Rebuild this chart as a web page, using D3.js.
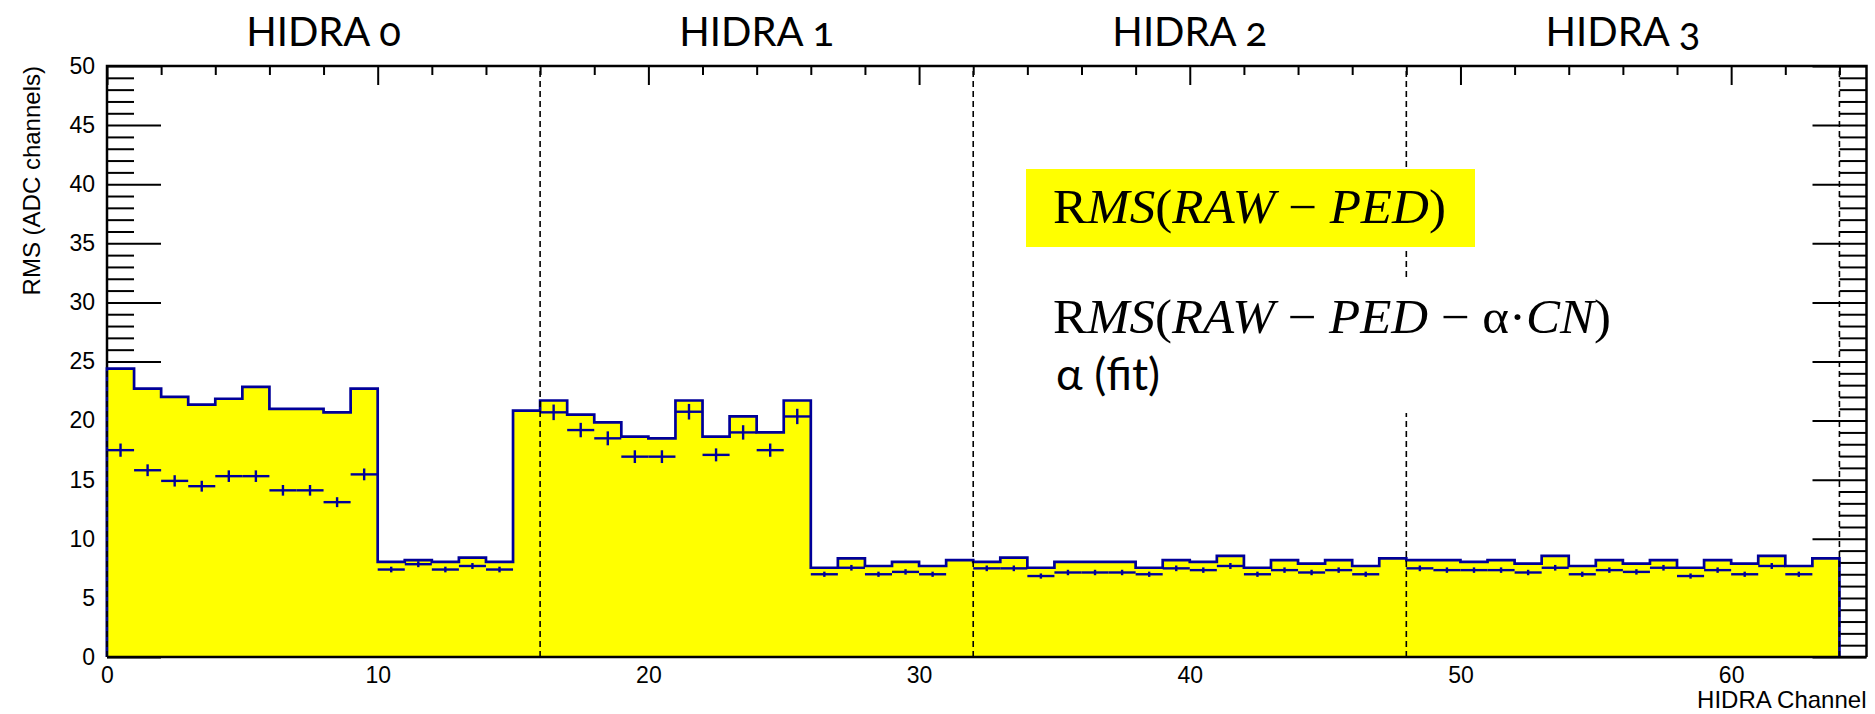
<!DOCTYPE html>
<html>
<head>
<meta charset="utf-8">
<script src="https://cdn.jsdelivr.net/npm/d3@7"></script>
<style>
  body { margin: 0; background: #fff; }
  svg { display: block; }
  .tick text { font-family: "Liberation Sans", Arial, sans-serif; }
</style>
</head>
<body>
<svg id="chart"></svg>
<script>
// module labels above the frame, centred on their channel blocks
const modules = ["HIDRA 0", "HIDRA 1", "HIDRA 2", "HIDRA 3"];
const moduleCenters = [8, 24, 40, 56];
const moduleEdges = [0, 16, 32, 48, 64];

// RMS(RAW - PED), one value per channel (filled histogram)
const rmsRawPed = [
  24.4, 22.7, 22.0, 21.35, 21.85, 22.85, 21.0, 21.0, 20.7, 22.7,
  8.05, 8.2, 8.05, 8.4, 8.05, 20.85, 21.7, 20.5, 19.85, 18.65,
  18.5, 21.7, 18.65, 20.35, 19.0, 21.7, 7.55, 8.35, 7.7, 8.05,
  7.7, 8.2, 8.05, 8.4, 7.55, 8.05, 8.05, 8.05, 7.55, 8.2,
  8.05, 8.55, 7.55, 8.2, 7.9, 8.2, 7.7, 8.35, 8.2, 8.2,
  8.05, 8.2, 7.9, 8.55, 7.7, 8.2, 7.9, 8.2, 7.55, 8.2,
  7.9, 8.55, 7.7, 8.35
];

// RMS(RAW - PED - a*CN), points with error bars (null = no point)
const rmsCnCorr = [
  17.5, 15.8, 14.9, 14.45, 15.3, 15.3, 14.1, 14.1, 13.1, 15.45,
  7.4, 7.85, 7.4, 7.7, 7.4, null, 20.7, 19.2, 18.5, 16.95,
  16.95, 20.75, 17.1, 19.0, 17.5, 20.35, 7.0, 7.55, 7.0, 7.2,
  7.0, null, 7.5, 7.5, 6.85, 7.15, 7.15, 7.15, 7.0, 7.5,
  7.35, 7.7, 7.0, 7.35, 7.15, 7.35, 7.0, null, 7.5, 7.35,
  7.35, 7.35, 7.15, 7.55, 7.0, 7.35, 7.2, 7.55, 6.85, 7.35,
  7.0, 7.7, 7.0, null
];
const rmsCnErr = [
  0.56, 0.5, 0.48, 0.46, 0.49, 0.49, 0.45, 0.45, 0.42, 0.5,
  0.24, 0.25, 0.24, 0.25, 0.24, 0, 0.66, 0.61, 0.59, 0.54,
  0.54, 0.66, 0.55, 0.61, 0.56, 0.65, 0.22, 0.24, 0.22, 0.23,
  0.22, 0, 0.24, 0.24, 0.22, 0.23, 0.23, 0.23, 0.22, 0.24,
  0.23, 0.25, 0.22, 0.23, 0.23, 0.23, 0.22, 0, 0.24, 0.23,
  0.23, 0.23, 0.23, 0.24, 0.22, 0.23, 0.23, 0.24, 0.22, 0.23,
  0.22, 0.25, 0.22, 0
];

const xMajorTicks = [0, 10, 20, 30, 40, 50, 60];
const xMinorTicks = [2, 4, 6, 8, 12, 14, 16, 18, 22, 24, 26, 28, 32, 34, 36, 38, 42, 44, 46, 48, 52, 54, 56, 58, 62, 64];
const yMajorTicks = [0, 5, 10, 15, 20, 25, 30, 35, 40, 45, 50];
const yMinorTicks = d3.range(0, 51).filter(v => v % 5 !== 0);

const width = 1875, height = 714;
const svg = d3.select('#chart').attr('width', width).attr('height', height);

const x = d3.scaleLinear().domain([0, 65]).range([107, 1866.5]);
const y = d3.scaleLinear().domain([0, 50]).range([657, 66]);

const yellow = '#ffff00';
const blue = '#000099';

// ticks (drawn first, the histogram covers them like in ROOT)
svg.append('g')
  .attr('transform', `translate(${x(0)},0)`)
  .call(d3.axisLeft(y).tickValues(yMajorTicks).tickSizeInner(-54).tickSizeOuter(0).tickPadding(12))
  .call(g => g.select('.domain').remove())
  .call(g => g.selectAll('text').attr('font-size', 23).attr('fill', '#000'));
svg.append('g')
  .attr('transform', `translate(${x(0)},0)`)
  .call(d3.axisLeft(y).tickValues(yMinorTicks).tickSizeInner(-27).tickSizeOuter(0).tickFormat(''))
  .call(g => g.select('.domain').remove());
svg.append('g')
  .attr('transform', `translate(${x(65)},0)`)
  .call(d3.axisRight(y).tickValues(yMajorTicks).tickSizeInner(-54).tickSizeOuter(0).tickFormat(''))
  .call(g => g.select('.domain').remove());
svg.append('g')
  .attr('transform', `translate(${x(65)},0)`)
  .call(d3.axisRight(y).tickValues(yMinorTicks).tickSizeInner(-27).tickSizeOuter(0).tickFormat(''))
  .call(g => g.select('.domain').remove());
svg.append('g')
  .attr('transform', `translate(0,${y(50)})`)
  .call(d3.axisTop(x).tickValues(xMajorTicks).tickSizeInner(-19).tickSizeOuter(0).tickFormat(''))
  .call(g => g.select('.domain').remove());
svg.append('g')
  .attr('transform', `translate(0,${y(50)})`)
  .call(d3.axisTop(x).tickValues(xMinorTicks).tickSizeInner(-9).tickSizeOuter(0).tickFormat(''))
  .call(g => g.select('.domain').remove());
svg.append('g')
  .attr('transform', `translate(0,${y(0)})`)
  .call(d3.axisBottom(x).tickValues(xMajorTicks).tickSizeInner(-19).tickSizeOuter(0).tickPadding(10))
  .call(g => g.select('.domain').remove())
  .call(g => g.selectAll('text').attr('font-size', 23).attr('fill', '#000'));
svg.selectAll('.tick line').attr('stroke', '#000').attr('stroke-width', 2);

// frame: left, top, right
svg.append('path')
  .attr('d', `M${x(0)},${y(0)}V${y(50)}H${x(65)}V${y(0)}`)
  .attr('fill', 'none').attr('stroke', '#000').attr('stroke-width', 2.5);

// histogram
const bins = rmsRawPed.map((v, i) => ({ lo: i, v }));
const steps = bins.concat([{ lo: rmsRawPed.length, v: rmsRawPed[rmsRawPed.length - 1] }]);

svg.append('path')
  .datum(steps)
  .attr('d', d3.area().curve(d3.curveStepAfter).x(d => x(d.lo)).y0(y(0)).y1(d => y(d.v)))
  .attr('fill', yellow);

const outline = d3.line().curve(d3.curveStepAfter).x(d => x(d.lo)).y(d => y(d.v))(steps);
svg.append('path')
  .attr('d', `M${x(0)},${y(0)}L${outline.slice(1)}L${x(rmsRawPed.length)},${y(0)}`)
  .attr('fill', 'none').attr('stroke', blue).attr('stroke-width', 2.7);

// corrected RMS: horizontal bin-wide bar + vertical error bar
const pts = rmsCnCorr.map((v, i) => ({ i, v, e: rmsCnErr[i] })).filter(d => d.v !== null);
const pg = svg.append('g').attr('stroke', blue).attr('stroke-width', 2.4);
pg.selectAll('line.h').data(pts).join('line').attr('class', 'h')
  .attr('x1', d => x(d.i)).attr('x2', d => x(d.i + 1))
  .attr('y1', d => y(d.v)).attr('y2', d => y(d.v));
pg.selectAll('line.v').data(pts).join('line').attr('class', 'v')
  .attr('x1', d => x(d.i + 0.5)).attr('x2', d => x(d.i + 0.5))
  .attr('y1', d => y(d.v - d.e)).attr('y2', d => y(d.v + d.e));

// module separators
svg.append('g').selectAll('line').data(moduleEdges).join('line')
  .attr('x1', d => x(d)).attr('x2', d => x(d))
  .attr('y1', y(0)).attr('y2', y(50))
  .attr('stroke', '#000').attr('stroke-width', 1.6).attr('stroke-dasharray', '6,4');

// x axis line
svg.append('line')
  .attr('x1', x(0)).attr('x2', x(65)).attr('y1', y(0)).attr('y2', y(0))
  .attr('stroke', '#000').attr('stroke-width', 2.5);

// axis titles
svg.append('text')
  .attr('x', x(65)).attr('y', 708)
  .attr('text-anchor', 'end')
  .attr('font-family', '"Liberation Sans", Arial, sans-serif').attr('font-size', 24)
  .text('HIDRA Channel');
svg.append('text')
  .attr('transform', `translate(40,${y(50)}) rotate(-90)`)
  .attr('text-anchor', 'end')
  .attr('font-family', '"Liberation Sans", Arial, sans-serif').attr('font-size', 24)
  .text('RMS (ADC channels)');

// module titles
svg.append('g').selectAll('text').data(modules).join('text')
  .attr('x', (d, i) => x(moduleCenters[i])).attr('y', 46)
  .attr('text-anchor', 'middle')
  .attr('font-family', 'Lato, "Open Sans", sans-serif').attr('font-size', 40)
  .style('font-variant-numeric', 'oldstyle-nums')
  .text(d => d);

// annotations
svg.append('rect').attr('x', 1026).attr('y', 169).attr('width', 449).attr('height', 78).attr('fill', yellow);
svg.append('rect').attr('x', 1026).attr('y', 278).attr('width', 620).attr('height', 135).attr('fill', '#fff');

function mathText(parts, tx, ty, w) {
  const t = svg.append('text').attr('x', tx).attr('y', ty)
    .attr('font-family', '"Liberation Serif", "DejaVu Serif", serif').attr('font-size', 48)
    .attr('textLength', w).attr('lengthAdjust', 'spacingAndGlyphs');
  parts.forEach(p => t.append('tspan').attr('font-style', p[1] ? 'italic' : 'normal').text(p[0]));
  return t;
}
mathText([['R', 0], ['MS', 1], ['(', 0], ['RAW', 1], [' \u2212 ', 0], ['PED', 1], [')', 0]], 1053, 223, 393);
mathText([['R', 0], ['MS', 1], ['(', 0], ['RAW', 1], [' \u2212 ', 0], ['PED', 1], [' \u2212 \u03b1\u00b7', 0], ['CN', 1], [')', 0]], 1053, 333, 558);
svg.append('text').attr('x', 1056).attr('y', 390)
  .attr('font-family', 'Lato, "Open Sans", sans-serif').attr('font-size', 45)
  .text('\u03b1 (fit)');
</script>
</body>
</html>
